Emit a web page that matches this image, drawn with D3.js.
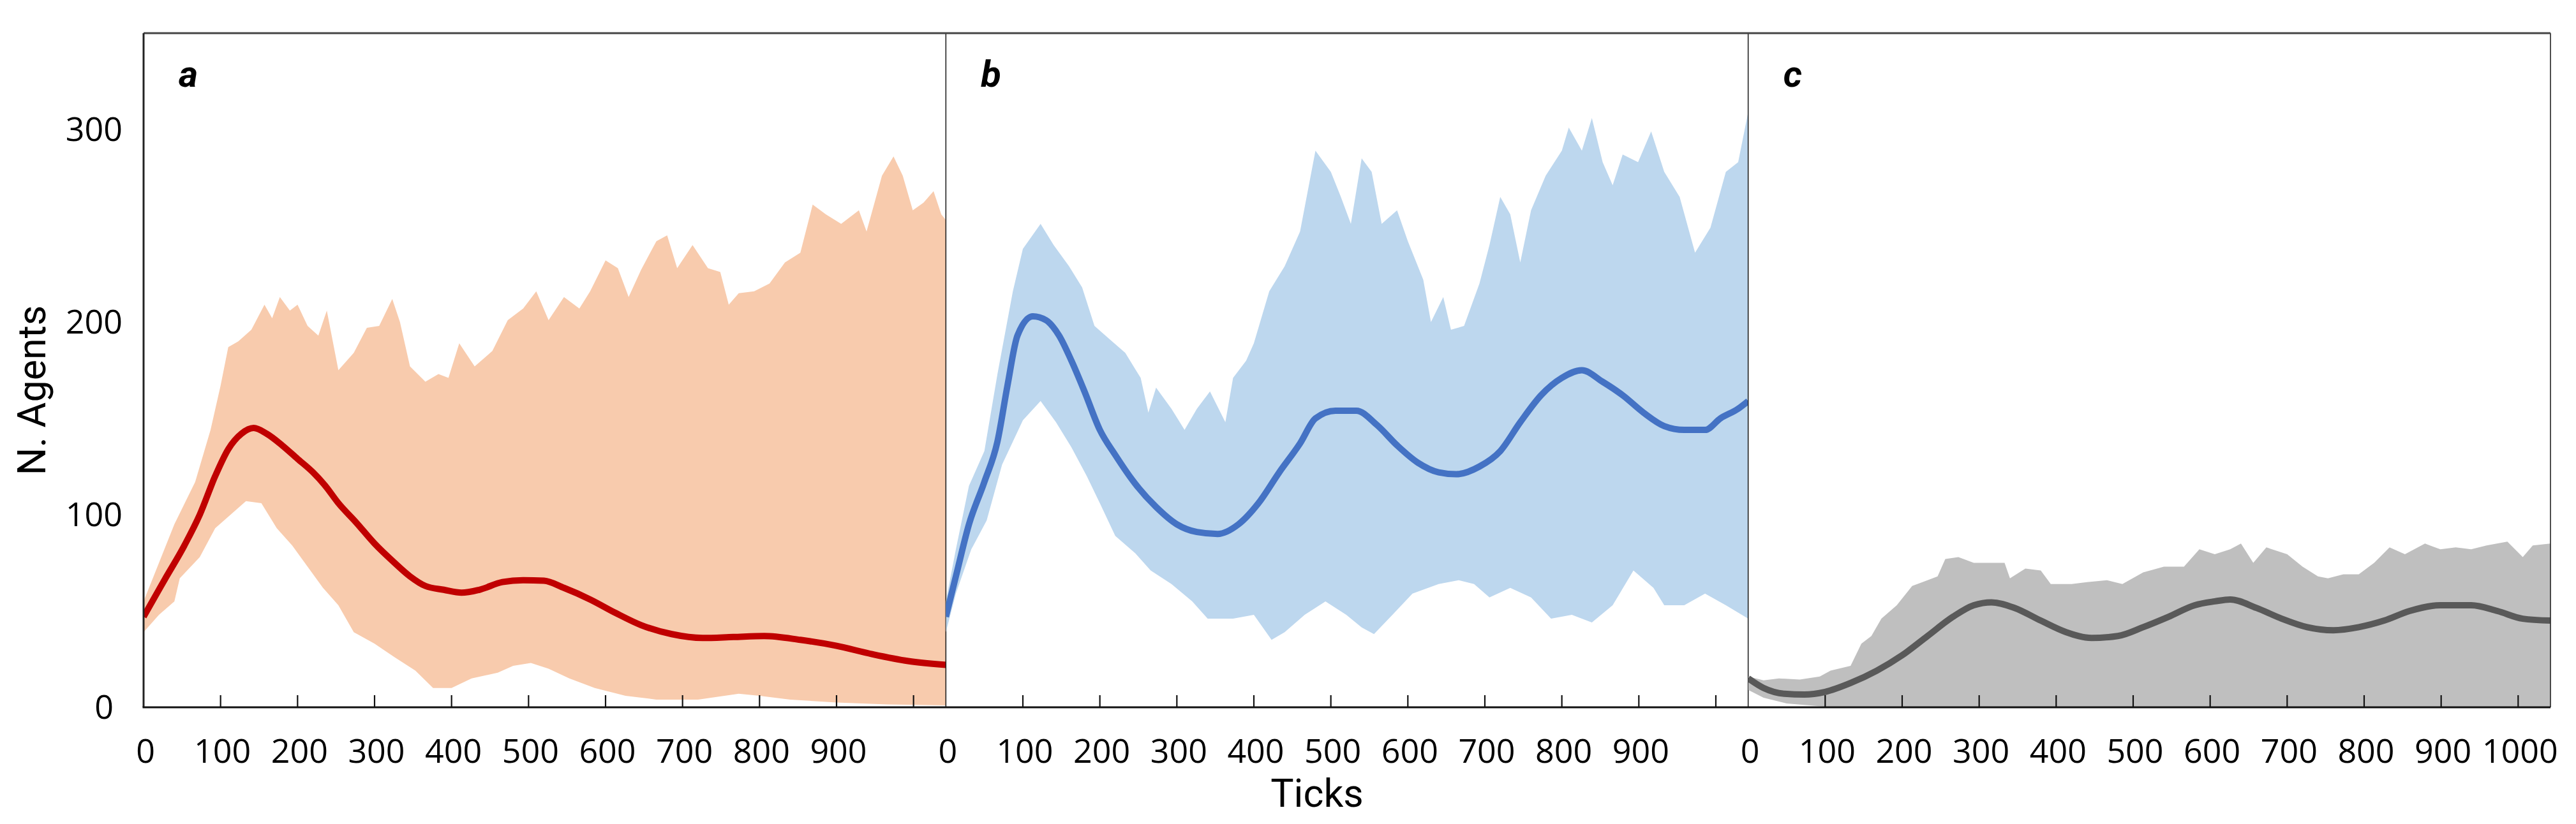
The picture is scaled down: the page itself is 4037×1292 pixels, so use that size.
<!DOCTYPE html>
<html>
<head>
<meta charset="utf-8">
<script src="https://cdn.jsdelivr.net/npm/d3@7"></script>
<style>
  html, body { margin: 0; padding: 0; background: #fff; }
  svg { display: block; }
</style>
</head>
<body>
<div id="chart"></div>
<script>
// Three panels of agent counts over ticks: mean line + min/max band per scenario.
// Values as [tick, agents].

const panelIds = ["a", "b", "c"];

const aMean = [[0,47],[27,66],[53,84],[73,100],[93,120],[110,134],[127,142],[143,145],[160,142],[180,136],[200,129],[220,122],[236,115],[253,106],[276,96],[300,85],[326,75],[346,68],[366,63],[390,61],[413,59.5],[436,61],[466,65],[493,66],[520,65.7],[546,62],[580,56],[613,49],[646,42.7],[686,38],[726,36],[766,36.5],[806,37],[853,35],[899,32],[946,27.6],[993,24],[1042,22]];
const aUpper = [[0,55],[20,75],[40,95],[67,117],[87,144],[100,167],[110,187],[123,190],[140,196],[157,209],[167,202],[177,213],[190,206],[200,209],[213,198],[227,193],[238,206],[253,175],[273,184],[290,197],[306,198],[323,212],[333,200],[346,177],[366,169],[383,173],[396,171],[410,189],[430,177],[453,185],[473,201],[493,207],[510,216],[526,201],[546,213],[566,207],[580,216],[600,232],[616,228],[630,213],[646,227],[666,242],[680,245],[693,228],[713,240],[733,228],[749,226],[760,209],[773,215],[793,216],[813,220],[833,231],[853,236],[869,261],[886,256],[906,251],[929,258],[939,247],[959,276],[974,286],[986,276],[999,258],[1013,262],[1026,268],[1036,256],[1042,253]];
const aLower = [[0,39],[20,48],[40,55],[47,67],[73,78],[93,93],[113,100],[133,107],[153,106],[173,93],[193,84],[213,73],[233,62],[253,53],[273,39],[300,33],[326,26],[353,19],[376,10],[400,10],[426,15],[460,18],[480,21.5],[503,23],[526,20],[553,15],[586,10],[626,6],[666,4],[720,4],[773,7],[800,6],[840,4],[900,2.5],[966,1.5],[1042,1]];

const bMean = [[0,47],[13,68],[30,95],[50,117],[67,138],[80,167],[93,193],[113,203],[130,201],[147,193],[163,180],[180,164],[200,144],[220,131],[246,116],[273,104],[300,95],[326,91],[353,90],[380,95],[406,106],[433,122],[460,137],[480,150],[506,154],[533,154],[560,146.5],[586,136],[613,127],[640,122],[663,121],[693,125],[720,133],[746,148],[773,162],[800,171],[826,175],[853,169],[879,162],[906,153],[933,146],[959,144],[986,144],[1006,150],[1029,155],[1042,159]];
const bUpper = [[0,55],[13,82],[30,115],[50,133],[67,173],[87,216],[100,238],[123,251],[140,240],[160,229],[177,218],[193,198],[213,191],[233,184],[253,171],[263,153],[273,166],[293,155],[310,144],[326,155],[343,164],[363,148],[373,171],[390,180],[400,189],[420,216],[440,229],[460,247],[480,289],[500,278],[513,265],[526,251],[540,285],[553,278],[566,251],[586,258],[600,242],[620,222],[630,200],[646,213],[656,196],[673,198],[693,220],[706,240],[720,265],[733,256],[746,231],[760,258],[779,276],[800,289],[809,301],[826,289],[839,306],[853,283],[866,271],[879,287],[899,283],[916,299],[933,278],[953,265],[973,236],[993,249],[1013,278],[1029,283],[1042,309]];
const bLower = [[0,39],[13,59],[33,82],[53,97],[73,126],[100,149],[123,159],[143,148],[163,135],[183,120],[200,106],[220,89],[246,80],[266,71],[293,64],[320,55],[340,46],[373,46],[400,48],[423,35],[440,39],[466,48],[493,55],[520,48],[540,41.5],[556,38],[580,48],[606,59],[640,64],[666,66],[686,64],[706,57],[733,62],[760,57],[786,46],[813,48],[839,44],[866,53],[893,71],[919,62],[933,53],[959,53],[986,59],[1013,53],[1042,46]];

const cMean = [[0,15],[20,10],[47,7],[73,6.6],[100,8],[133,12.6],[167,19],[200,27],[233,37],[266,47],[293,53],[316,54.5],[346,51.6],[380,45],[413,39],[446,36],[480,37],[513,41.6],[546,47],[580,53],[606,55],[626,56],[660,51.6],[693,46],[726,41.6],[760,40],[793,41.6],[826,45],[859,50],[899,53],[939,53],[973,50],[1006,46],[1042,45]];
const cUpper = [[0,16],[20,14],[40,15],[67,14.4],[93,16],[107,19],[133,21.5],[147,33],[160,37],[173,46],[193,53],[213,63],[233,66],[246,68],[256,77],[273,78],[293,75],[313,75],[333,75],[340,67],[360,72],[380,71],[393,64],[420,64],[440,65],[466,66],[486,64],[513,70],[540,73],[566,73],[586,82],[606,79.5],[626,82],[640,85],[656,75],[673,83],[700,79.5],[720,73],[740,68],[753,67],[773,69],[793,69],[813,75],[833,83],[853,79.5],[879,85],[899,82],[919,83],[939,82],[959,84],[986,86],[1006,78],[1019,84],[1042,85]];
const cLower = [[0,9],[20,5],[50,2],[80,1],[110,0],[1042,0]];

const xTicks = [100, 200, 300, 400, 500, 600, 700, 800, 900, 1000];
const xLabelsAB = [0, 100, 200, 300, 400, 500, 600, 700, 800, 900];
const xLabelsC = [0, 100, 200, 300, 400, 500, 600, 700, 800, 900, 1000];
const yLabels = [0, 100, 200, 300];

(() => {
  const W = 4037, H = 1292;
  const LEFT = 225, RIGHT = 3997, TOP = 52, BASE = 1109;
  const PW = (RIGHT - LEFT) / 3;
  const NUM = "'Open Sans', 'Noto Sans', sans-serif";
  const TITLE = "Roboto, 'Open Sans', sans-serif";

  const panels = [
    { id: panelIds[0], mean: aMean, up: aUpper, lo: aLower, band: "#f8cbad", line: "#c00000", labels: xLabelsAB },
    { id: panelIds[1], mean: bMean, up: bUpper, lo: bLower, band: "#bdd7ee", line: "#4472c4", labels: xLabelsAB },
    { id: panelIds[2], mean: cMean, up: cUpper, lo: cLower, band: "#bfbfbf", line: "#595959", labels: xLabelsC },
  ];

  const svg = d3.select("#chart").append("svg")
    .attr("width", W).attr("height", H).attr("viewBox", `0 0 ${W} ${H}`);

  const y = d3.scaleLinear().domain([0, 350]).range([BASE, TOP]);

  panels.forEach((p, i) => {
    const x0 = LEFT + i * PW;
    const x = d3.scaleLinear().domain([0, 1042]).range([x0, x0 + PW]);
    const g = svg.append("g");

    const clipId = "clip-" + p.id;
    svg.append("clipPath").attr("id", clipId).append("rect")
      .attr("x", x0).attr("y", TOP).attr("width", PW).attr("height", BASE - TOP);

    // band: upper edge forward, lower edge back, closed
    const ring = p.up.concat(p.lo.slice().reverse());
    g.append("path")
      .attr("d", d3.line().x(d => x(d[0])).y(d => y(d[1]))(ring) + "Z")
      .attr("fill", p.band).attr("clip-path", `url(#${clipId})`);

    // mean
    g.append("path")
      .attr("d", d3.line().x(d => x(d[0])).y(d => y(d[1])).curve(d3.curveMonotoneX)(p.mean))
      .attr("fill", "none").attr("stroke", p.line).attr("stroke-width", 10)
      .attr("stroke-linejoin", "round").attr("clip-path", `url(#${clipId})`);

    // inward ticks
    xTicks.forEach(t => {
      g.append("line").attr("x1", x(t)).attr("x2", x(t))
        .attr("y1", BASE).attr("y2", BASE - 19)
        .attr("stroke", "#111").attr("stroke-width", 2.2);
    });
    p.labels.forEach(t => {
      g.append("text").attr("x", x(t) + 3).attr("y", BASE + 69)
        .attr("dy", "0.35em").attr("text-anchor", "middle")
        .attr("style", `font:52px ${NUM};fill:#000`).text(t);
    });

    // panel letter
    g.append("text").attr("x", x0 + 55).attr("y", 136)
      .attr("style", `font:italic bold 58px 'Liberation Sans Narrow', Roboto, sans-serif;fill:#000`)
      .text(p.id);

    // divider / right frame
    g.append("line").attr("x1", x0 + PW).attr("x2", x0 + PW)
      .attr("y1", TOP).attr("y2", BASE)
      .attr("stroke", "#222").attr("stroke-width", 1.6);
  });

  // frame
  svg.append("line").attr("x1", LEFT).attr("x2", RIGHT).attr("y1", TOP).attr("y2", TOP)
    .attr("stroke", "#444").attr("stroke-width", 3);
  svg.append("line").attr("x1", LEFT).attr("x2", LEFT).attr("y1", TOP).attr("y2", BASE)
    .attr("stroke", "#222").attr("stroke-width", 3);
  svg.append("line").attr("x1", LEFT - 1.5).attr("x2", RIGHT).attr("y1", BASE).attr("y2", BASE)
    .attr("stroke", "#111").attr("stroke-width", 3);

  // y labels (no ticks)
  yLabels.forEach(v => {
    svg.append("text").attr("x", v === 0 ? 178 : 192).attr("y", y(v)).attr("dy", "0.35em")
      .attr("text-anchor", "end")
      .attr("style", `font:52px ${NUM};fill:#000`).text(v);
  });

  // axis titles
  svg.append("text").attr("transform", `translate(71,612) rotate(-90)`)
    .attr("text-anchor", "middle")
    .attr("style", `font:61px ${TITLE};fill:#000`).text("N. Agents");
  svg.append("text").attr("x", 2064).attr("y", 1265).attr("text-anchor", "middle")
    .attr("style", `font:61px ${TITLE};fill:#000`).text("Ticks");
})();
</script>
</body>
</html>
